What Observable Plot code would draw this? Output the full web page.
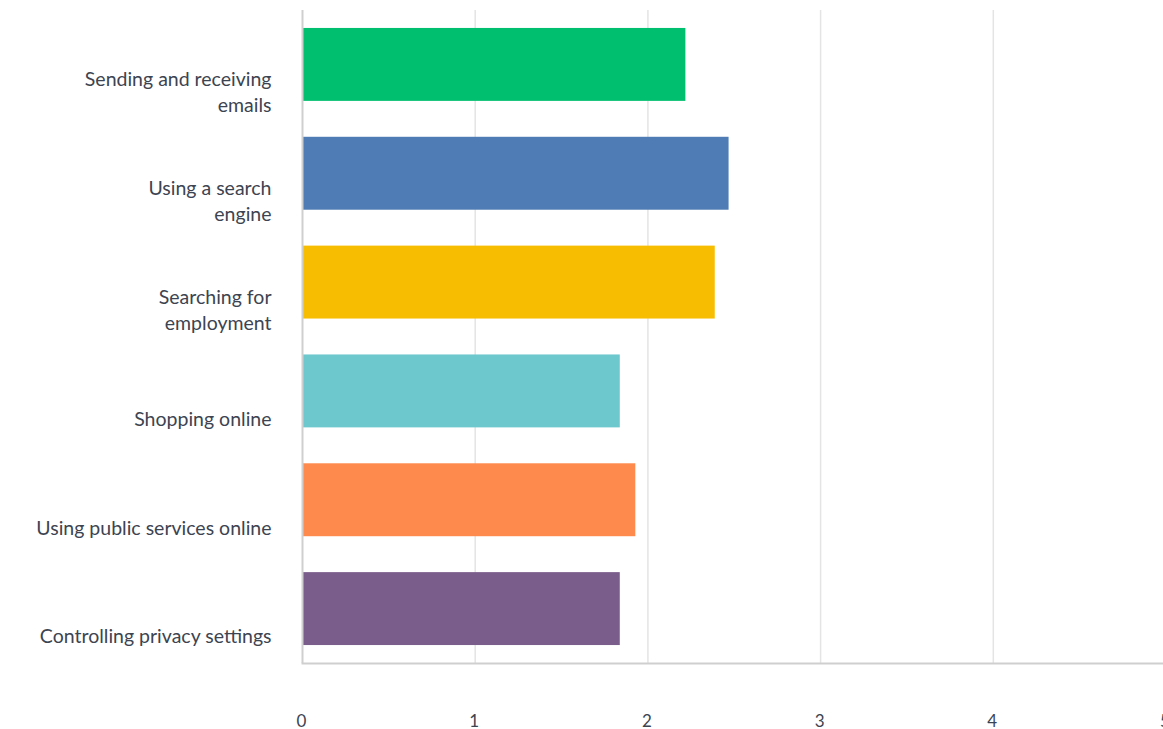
<!DOCTYPE html>
<html>
<head>
<meta charset="utf-8">
<script src="https://cdn.jsdelivr.net/npm/d3@7"></script>
<script src="https://cdn.jsdelivr.net/npm/@observablehq/plot@0.6"></script>
<style>
  html, body { margin: 0; padding: 0; background: #fff; overflow: hidden; }
  #chart svg { overflow: visible; }
</style>
</head>
<body>
<div id="chart"></div>
<script>
const categories = [
  "Sending and receiving\nemails",
  "Using a search\nengine",
  "Searching for\nemployment",
  "Shopping online",
  "Using public services online",
  "Controlling privacy settings"
];
const values = [2.22, 2.47, 2.39, 1.84, 1.93, 1.84];
const colors = ["#00BF6F", "#4F7CB4", "#F7BD00", "#6CC8CD", "#FE8A4E", "#7B5D8C"];
const xTicks = [0, 1, 2, 3, 4, 5];

const data = categories.map((c, i) => ({category: c, value: values[i], color: colors[i]}));

const chart = Plot.plot({
  width: 1163,
  height: 729,
  marginTop: 10,
  marginBottom: 66,
  marginLeft: 302,
  marginRight: 0,
  style: {fontFamily: "Lato, 'Open Sans', sans-serif", color: "#3d4451", background: "#fff"},
  x: {domain: [0, 5], range: [302, 1165.5]},
  y: {domain: categories, paddingInner: 0.33, paddingOuter: 0.165, round: false},
  marks: [
    Plot.gridX(xTicks.slice(1), {stroke: "#e4e4e4", strokeOpacity: 1, strokeWidth: 1.5}),
    Plot.barX(data, {y: "category", x: "value", fill: "color"}),
    Plot.ruleX([0], {stroke: "#cfcfcf", strokeWidth: 2}),
    Plot.frame({anchor: "bottom", stroke: "#cfcfcf", strokeWidth: 2}),
    Plot.axisX(xTicks, {tickSize: 0, tickPadding: 51, fontSize: 17, label: null, fill: "#3d4451", dx: -1, tickFormat: d3.format("d")}),
    Plot.axisY({tickSize: 0, tickPadding: 31, fontSize: 19.5, label: null, fill: "#3d4451", dy: 26, lineHeight: 1.33, textAnchor: "end"})
  ]
});
document.getElementById("chart").appendChild(chart);
</script>
</body>
</html>
